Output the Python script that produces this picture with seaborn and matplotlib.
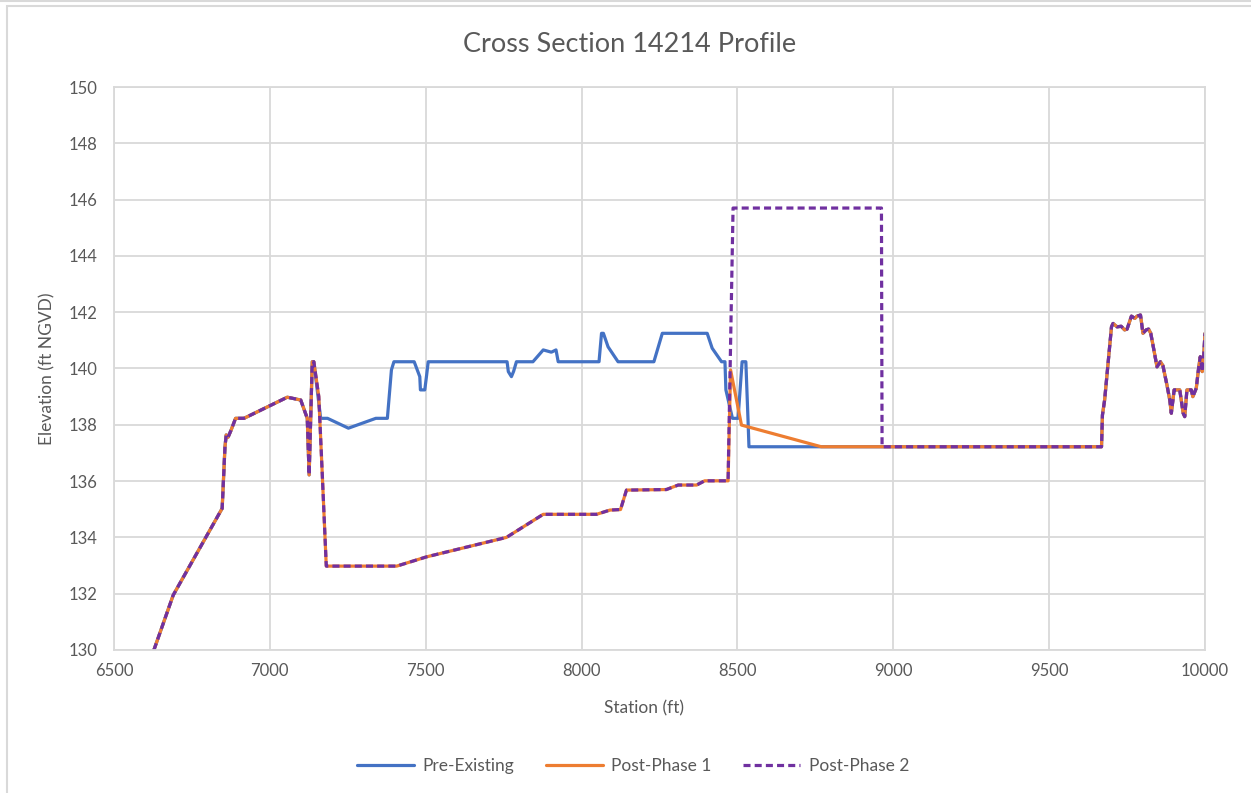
import numpy as np
import pandas as pd
import matplotlib
matplotlib.use("Agg")
import matplotlib.pyplot as plt
from matplotlib.patches import Rectangle
from matplotlib.lines import Line2D
import seaborn as sns

# station (ft) / elevation (ft NGVD)
# left bank, same for all three surveys
left_sta = [6628, 6690, 6847, 6856, 6860, 6866, 6876, 6890, 6917, 7056, 7099,
            7120, 7126, 7136, 7141]
left_elev = [130.0, 131.95, 135.03, 137.22, 137.64, 137.56, 137.82, 138.23, 138.23,
             138.98, 138.88, 138.23, 136.22, 140.24, 140.24]

# pre-existing middle section
pre_sta = [7163, 7185, 7252, 7340, 7377, 7390, 7398, 7463, 7481, 7483, 7497, 7503,
           7508, 7761, 7765, 7775, 7782, 7791, 7844, 7877, 7903, 7918, 7925, 8056,
           8064, 8070, 8085, 8117, 8232, 8259, 8403, 8419, 8449, 8460, 8463, 8484,
           8502, 8515, 8527, 8534, 8537, 8769]
pre_elev = [138.23, 138.23, 137.88, 138.23, 138.23, 139.95, 140.24, 140.24, 139.71,
            139.24, 139.24, 139.77, 140.24, 140.24, 139.89, 139.71, 139.90, 140.24,
            140.24, 140.66, 140.58, 140.66, 140.24, 140.24, 141.25, 141.25, 140.77,
            140.24, 140.24, 141.25, 141.25, 140.72, 140.24, 140.24, 139.24, 138.23,
            138.23, 140.24, 140.24, 138.17, 137.22, 137.22]

# channel after phase 1 (also under phase 2)
chan_sta = [7157, 7168, 7181, 7407, 7503, 7759, 7877, 8048, 8091, 8125, 8144, 8272,
            8310, 8369, 8395, 8470]
chan_elev = [139.0, 136.28, 132.98, 132.98, 133.31, 134.0, 134.82, 134.82, 134.97,
             134.99, 135.68, 135.70, 135.86, 135.86, 136.01, 136.01]

# phase 1 levee, phase 2 berm
p1_sta = [8478, 8513, 8769]
p1_elev = [139.95, 137.99, 137.22]
p2_sta = [8486, 8962, 8964]
p2_elev = [145.7, 145.7, 137.22]

# right bank, same for all
right_sta = [9668, 9671, 9678, 9700, 9705, 9718, 9731, 9742, 9750, 9764, 9775, 9782,
             9793, 9801, 9811, 9819, 9826, 9835, 9846, 9857, 9865, 9878, 9887, 9892,
             9901, 9919, 9930, 9935, 9942, 9956, 9961, 9972, 9980, 9985, 9991, 9995,
             10000]
right_elev = [137.22, 138.35, 138.88, 141.48, 141.60, 141.48, 141.50, 141.37, 141.40,
              141.86, 141.78, 141.86, 141.90, 141.25, 141.37, 141.40, 141.25, 140.72,
              140.06, 140.24, 140.10, 139.41, 138.88, 138.41, 139.24, 139.24, 138.41,
              138.29, 139.24, 139.24, 139.0, 139.3, 140.06, 140.42, 139.89, 140.3,
              141.25]

series_names = ["Pre-Existing", "Post-Phase 1", "Post-Phase 2"]

profiles = {
    "Pre-Existing": (left_sta + pre_sta + right_sta,
                     left_elev + pre_elev + right_elev),
    "Post-Phase 1": (left_sta + chan_sta + p1_sta + right_sta,
                     left_elev + chan_elev + p1_elev + right_elev),
    "Post-Phase 2": (left_sta + chan_sta + p2_sta + right_sta,
                     left_elev + chan_elev + p2_elev + right_elev),
}

colors = {"Pre-Existing": "#4472C4", "Post-Phase 1": "#ED7D31", "Post-Phase 2": "#7030A0"}
styles = {"Pre-Existing": "-", "Post-Phase 1": "-", "Post-Phase 2": (0, (2.2, 1.3))}

sns.set_style("white")
plt.rcParams["font.family"] = ["Lato", "DejaVu Sans"]
txt = "#595959"
grid = "#d9d9d9"

fig = plt.figure(figsize=(12.51, 7.93), dpi=100)
ax = fig.add_axes([114 / 1251, 1 - 650 / 793, 1091 / 1251, 563 / 793])

for name in series_names:
    sta, elev = profiles[name]
    df = pd.DataFrame({"station": sta, "elev": elev})
    sns.lineplot(data=df, x="station", y="elev", sort=False, estimator=None,
                 color=colors[name], linewidth=2.3, linestyle=styles[name], ax=ax)

ax.set_xlim(6500, 10000)
ax.set_ylim(130, 150)
ax.set_xticks(np.arange(6500, 10001, 500))
ax.set_yticks(np.arange(130, 151, 2))
ax.grid(True, color=grid, linewidth=1.3)
ax.set_axisbelow(True)
for s in ax.spines.values():
    s.set_color(grid)
    s.set_linewidth(1.3)
ax.tick_params(length=0, labelsize=12, labelcolor=txt)
ax.tick_params(axis="x", pad=9)
ax.tick_params(axis="y", pad=12)

ax.set_xlabel("Station (ft)", fontsize=12.5, color=txt)
ax.xaxis.set_label_coords((644 - 114) / 1091, -0.09)
ax.set_ylabel("Elevation (ft NGVD)", fontsize=12.5, color=txt, va="center")
ax.yaxis.set_label_coords((47 - 114) / 1091, 0.5)

fig.text(630 / 1251, 1 - 44 / 793, "Cross Section 14214 Profile", fontsize=19.5,
         color=txt, ha="center", va="center")

handles = [Line2D([], [], color=colors[n], linewidth=2.3, linestyle=styles[n])
           for n in series_names]
leg = fig.legend(handles, series_names, loc="center", ncol=3,
                 bbox_to_anchor=(633 / 1251, 1 - 766 / 793), frameon=False,
                 fontsize=12.5, handlelength=3.3, handletextpad=0.5, columnspacing=1.8)
for t in leg.get_texts():
    t.set_color(txt)

# chart frame
fig.patches.append(Rectangle((7 / 1251, -0.05), 1.1, 1 - 6 / 793 + 0.05,
                             transform=fig.transFigure, fill=False,
                             edgecolor=grid, linewidth=1.5))
fig.lines.append(Line2D([0, 1], [1 - 1 / 793, 1 - 1 / 793], transform=fig.transFigure,
                        color=grid, linewidth=1.5))

fig.savefig("out.png", dpi=100)
